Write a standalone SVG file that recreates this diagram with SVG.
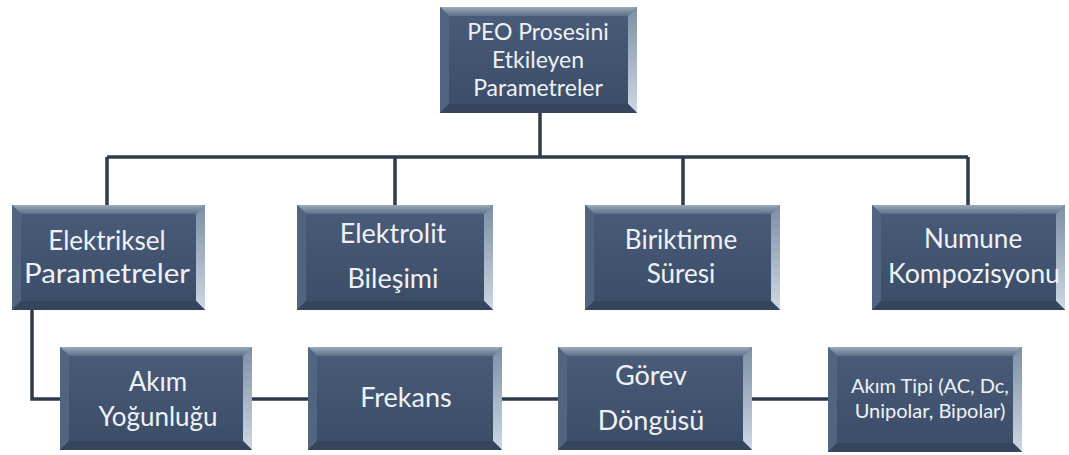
<svg xmlns="http://www.w3.org/2000/svg" width="1069" height="455" viewBox="0 0 1069 455">
<defs>
<linearGradient id="gTop" x1="0" y1="0" x2="0" y2="1"><stop offset="0" stop-color="#9aaabb"/><stop offset="1" stop-color="#5d6f88"/></linearGradient>
<linearGradient id="gRight" x1="0" y1="0" x2="0" y2="1"><stop offset="0" stop-color="#7d8fa5"/><stop offset="1" stop-color="#cdd8e3"/></linearGradient>
<linearGradient id="gFace" x1="0" y1="0" x2="0" y2="1"><stop offset="0" stop-color="#4a5c78"/><stop offset="1" stop-color="#3a4c66"/></linearGradient>
<style>
.face{fill:url(#gFace)}
.bt{fill:url(#gTop)}
.br{fill:url(#gRight)}
.bl{fill:#516480}
.bb{fill:#34455d}
.t{font-family:Lato,"Open Sans","DejaVu Sans",sans-serif;fill:#eef2f6;text-anchor:middle}
.c{fill:none;stroke:#2f3b4b;stroke-width:3.5}
</style>
</defs>
<g id="connectors">
<path class="c" d="M540 112V157M107 157H968M107 157V205M395 157V205M683 157V205M968 157V205"/>
<path class="c" d="M32 310V399H60M252 399H308M502 399H558M752 399H828"/>
</g>
<g id="n0">
<rect class="face" x="440" y="7" width="197" height="106"/>
<polygon class="bt" points="440,7 637,7 628,16 449,16"/>
<polygon class="br" points="637,7 637,113 628,104 628,16"/>
<polygon class="bl" points="440,7 449,16 449,104 440,113"/>
<polygon class="bb" points="440,113 449,104 628,104 637,113"/>
<text class="t" x="538" y="40" font-size="23">PEO Prosesini</text>
<text class="t" x="538" y="68" font-size="23">Etkileyen</text>
<text class="t" x="538" y="96" font-size="23">Parametreler</text>
</g>
<g id="n1">
<rect class="face" x="12" y="205" width="193" height="105"/>
<polygon class="bt" points="12,205 205,205 196,214 21,214"/>
<polygon class="br" points="205,205 205,310 196,301 196,214"/>
<polygon class="bl" points="12,205 21,214 21,301 12,310"/>
<polygon class="bb" points="12,310 21,301 196,301 205,310"/>
<text class="t" x="107" y="250" font-size="26">Elektriksel</text>
<text class="t" x="107" y="283" font-size="26" textLength="166" lengthAdjust="spacingAndGlyphs">Parametreler</text>
</g>
<g id="n2">
<rect class="face" x="297" y="205" width="196" height="105"/>
<polygon class="bt" points="297,205 493,205 484,214 306,214"/>
<polygon class="br" points="493,205 493,310 484,301 484,214"/>
<polygon class="bl" points="297,205 306,214 306,301 297,310"/>
<polygon class="bb" points="297,310 306,301 484,301 493,310"/>
<text class="t" x="393" y="243" font-size="27">Elektrolit</text>
<text class="t" x="393" y="288" font-size="27">Bileşimi</text>
</g>
<g id="n3">
<rect class="face" x="585" y="205" width="195" height="105"/>
<polygon class="bt" points="585,205 780,205 771,214 594,214"/>
<polygon class="br" points="780,205 780,310 771,301 771,214"/>
<polygon class="bl" points="585,205 594,214 594,301 585,310"/>
<polygon class="bb" points="585,310 594,301 771,301 780,310"/>
<text class="t" x="681" y="249" font-size="26">Biriktirme</text>
<text class="t" x="681" y="283" font-size="26">Süresi</text>
</g>
<g id="n4">
<rect class="face" x="872" y="205" width="193" height="105"/>
<polygon class="bt" points="872,205 1065,205 1056,214 881,214"/>
<polygon class="br" points="1065,205 1065,310 1056,301 1056,214"/>
<polygon class="bl" points="872,205 881,214 881,301 872,310"/>
<polygon class="bb" points="872,310 881,301 1056,301 1065,310"/>
<text class="t" x="973" y="248" font-size="26">Numune</text>
<text class="t" x="974" y="283" font-size="26" textLength="172" lengthAdjust="spacingAndGlyphs">Kompozisyonu</text>
</g>
<g id="n5">
<rect class="face" x="60" y="347" width="192" height="103"/>
<polygon class="bt" points="60,347 252,347 243,356 69,356"/>
<polygon class="br" points="252,347 252,450 243,441 243,356"/>
<polygon class="bl" points="60,347 69,356 69,441 60,450"/>
<polygon class="bb" points="60,450 69,441 243,441 252,450"/>
<text class="t" x="158" y="391" font-size="26">Akım</text>
<text class="t" x="158" y="426" font-size="26">Yoğunluğu</text>
</g>
<g id="n6">
<rect class="face" x="308" y="347" width="194" height="103"/>
<polygon class="bt" points="308,347 502,347 493,356 317,356"/>
<polygon class="br" points="502,347 502,450 493,441 493,356"/>
<polygon class="bl" points="308,347 317,356 317,441 308,450"/>
<polygon class="bb" points="308,450 317,441 493,441 502,450"/>
<text class="t" x="406" y="407" font-size="27">Frekans</text>
</g>
<g id="n7">
<rect class="face" x="558" y="347" width="194" height="103"/>
<polygon class="bt" points="558,347 752,347 743,356 567,356"/>
<polygon class="br" points="752,347 752,450 743,441 743,356"/>
<polygon class="bl" points="558,347 567,356 567,441 558,450"/>
<polygon class="bb" points="558,450 567,441 743,441 752,450"/>
<text class="t" x="651" y="385" font-size="27">Görev</text>
<text class="t" x="651" y="430" font-size="27">Döngüsü</text>
</g>
<g id="n8">
<rect class="face" x="828" y="347" width="194" height="105"/>
<polygon class="bt" points="828,347 1022,347 1013,356 837,356"/>
<polygon class="br" points="1022,347 1022,452 1013,443 1013,356"/>
<polygon class="bl" points="828,347 837,356 837,443 828,452"/>
<polygon class="bb" points="828,452 837,443 1013,443 1022,452"/>
<text class="t" x="930" y="393" font-size="20">Akım Tipi (AC, Dc,</text>
<text class="t" x="930" y="418" font-size="20">Unipolar, Bipolar)</text>
</g>
</svg>
